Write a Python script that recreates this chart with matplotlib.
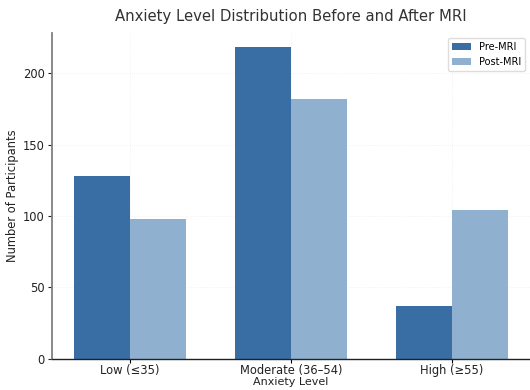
import matplotlib
matplotlib.use("Agg")
import matplotlib.pyplot as plt
import numpy as np

categories = ["Low (≤35)", "Moderate (36–54)", "High (≥55)"]
pre_mri = [128, 218, 37]
post_mri = [98, 182, 104]
series_labels = ["Pre-MRI", "Post-MRI"]

fig = plt.figure(figsize=(5.3, 3.9), dpi=100)
ax = fig.add_axes([0.098, 0.08, 0.902, 0.835])

x = np.arange(len(categories))
w = 0.35
ax.bar(x - w/2, pre_mri, w, color="#386ea4", label=series_labels[0], zorder=2)
ax.bar(x + w/2, post_mri, w, color="#8fb0cf", label=series_labels[1], zorder=2)

ax.set_xticks(x)
ax.set_xticklabels(categories, fontsize=8.3, color="#222222")
ax.set_yticks([0, 50, 100, 150, 200])
ax.tick_params(axis="y", labelsize=8.3, colors="#222222", length=3, pad=2)
ax.tick_params(axis="x", length=3, pad=1)
ax.set_ylim(0, 228)
ax.grid(True, color="#eeeeee", linestyle=":", linewidth=0.6, zorder=0)

ax.spines["top"].set_visible(False)
ax.spines["right"].set_visible(False)
ax.spines["left"].set_color("#808080")
ax.spines["left"].set_linewidth(1.3)
ax.spines["bottom"].set_color("#222222")
ax.spines["bottom"].set_linewidth(1.0)

ax.set_title("Anxiety Level Distribution Before and After MRI", fontsize=10.7, color="#333333", pad=9)
ax.set_xlabel("Anxiety Level", fontsize=8, color="#222222", labelpad=0)
ax.set_ylabel("Number of Participants", fontsize=8.3, color="#222222", labelpad=3)
leg = ax.legend(loc="upper right", fontsize=7, frameon=True, framealpha=1, edgecolor="#dddddd")

fig.savefig("out.png", dpi=100)
